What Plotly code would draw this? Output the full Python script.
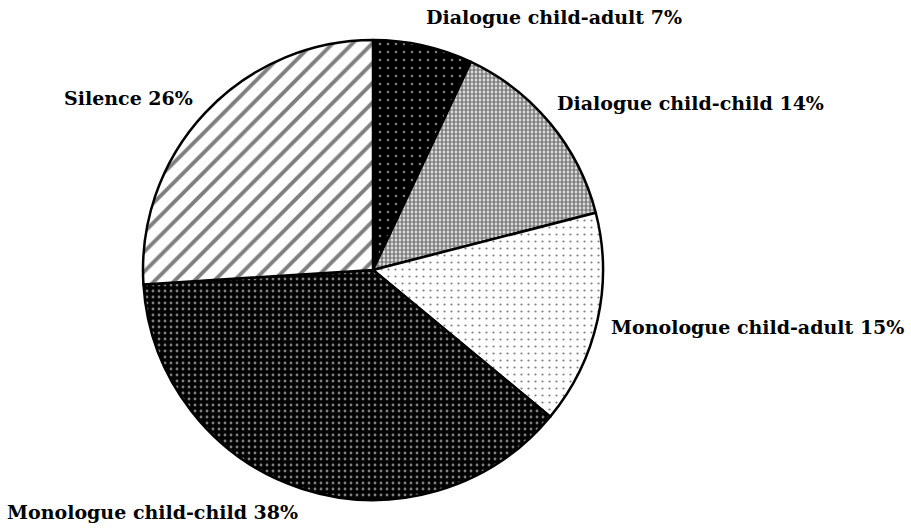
import plotly.graph_objects as go

# Share of talk time by type (percent), clockwise from 12 o'clock
categories = [
    "Dialogue child-adult",
    "Dialogue child-child",
    "Monologue child-adult",
    "Monologue child-child",
    "Silence",
]
shares = [7, 14, 15, 38, 26]

# label placement (pixels from top-left)
label_pos = [
    (424, 17),
    (555, 103),
    (609, 327),
    (5, 512),
    (62, 98),
]

W, H = 911, 529

fig = go.Figure(
    go.Pie(
        labels=categories,
        values=shares,
        sort=False,
        direction="clockwise",
        rotation=0,
        textinfo="none",
        hoverinfo="label+percent",
        showlegend=False,
        domain=dict(x=[143 / W, 603 / W], y=[29 / H, 489 / H]),
        marker=dict(
            colors=["black", "white", "white", "black", "white"],
            line=dict(color="black", width=2.5),
            pattern=dict(
                shape=[".", ".", ".", ".", "/"],
                fillmode="overlay",
                fgcolor=["white", "black", "black", "white", "black"],
                bgcolor=["black", "white", "white", "black", "white"],
                size=[8, 4, 7, 6, 14],
                solidity=[0.08, 0.7, 0.08, 0.18, 0.28],
            ),
        ),
    )
)

for name, val, (px_, py_) in zip(categories, shares, label_pos):
    fig.add_annotation(
        x=px_ / W,
        y=1 - py_ / H,
        xref="paper",
        yref="paper",
        xanchor="left",
        yanchor="middle",
        showarrow=False,
        text=f"<b>{name} {val}%</b>",
        font=dict(family="DejaVu Serif", size=19, color="black"),
    )

fig.update_layout(
    width=W,
    height=H,
    margin=dict(l=0, r=0, t=0, b=0),
    paper_bgcolor="white",
    plot_bgcolor="white",
)

fig.write_html(
    "out.html",
    config={"displayModeBar": False},
    post_script="document.body.style.margin='0';document.body.style.overflow='hidden';",
)
